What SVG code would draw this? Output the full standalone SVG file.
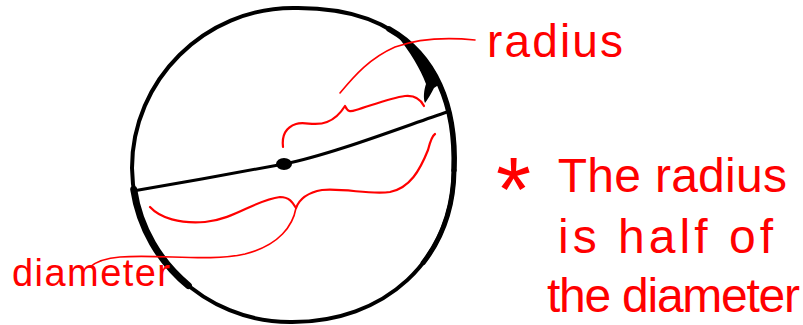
<svg xmlns="http://www.w3.org/2000/svg" width="803" height="325" viewBox="0 0 803 325">
<style>
.ink{fill:none;stroke:#000;stroke-linecap:round;stroke-linejoin:round}
.red{fill:none;stroke:#ff0000;stroke-width:1.6;stroke-linecap:round;stroke-linejoin:round}
.brace{stroke-width:2.2}
.lbl{font-family:"Liberation Sans",Arial,sans-serif;fill:#ff0000}
</style>
<rect width="803" height="325" fill="#fff"/>
<g id="circle">
<path class="ink" stroke-width="4" d="M293,8 C405,6 458,70 454,170 C453,260 385,323 290,322 C205,322 133,255 132,168 C132,80 205,8 293,8 Z"/>
<path class="ink" stroke-width="7" d="M188.4,285.6 C154.6,257.6 132.55,215.85 132,168" pathLength="100" stroke-dasharray="84 200"/>
<path class="ink" stroke-width="5.5" d="M389,29 C435.1,55.2 456.6,105 454,170"/>
<path class="ink" stroke-width="5" d="M454,170 C453.6,206 442.5,237.7 423.2,262.7"/>
<path d="M396,34 C412,44 426,58 440,84 L434,88 C431,94 428,99 425,103 C423,98 424,90 426,84 C420,68 410,52 396,34 Z" fill="#000"/>
</g>
<g id="diameter-line">
<path class="ink" d="M133,191 C180,183 240,172 284,164 C330,155 400,128 447,112" stroke-width="3"/>
</g>
<g id="center">
<ellipse cx="284" cy="164" rx="8" ry="6" fill="#000"/>
</g>
<g id="radius-brace">
<path class="red brace" d="M283,147 C282,138 284,128 296,124 C305,121 315,127 327,122 C335,119 340,114 345,106 C348,112 350,112 356,110 C370,106 390,98 405,96 C415,95 421,100 424,106"/>
</g>
<g id="diameter-brace">
<path class="red brace" d="M150,207 C160,218 180,224 205,222 C235,219 255,200 280,197 C290,197 293,203 296,208 C299,200 305,193 322,190 C345,188 370,195 390,192 C410,188 420,170 428,150 C430,142 432,136 435,134"/>
</g>
<g id="connectors">
<path class="red" d="M340,93 C355,75 370,58 395,47 C420,38 445,37 475,40"/>
<path class="red" d="M296,208 C293,225 280,245 245,254 C210,262 160,254 120,257 C108,258 98,260 90,267"/>
</g>
<g id="radius-label">
<text class="lbl" x="487" y="57" font-size="46" textLength="136" lengthAdjust="spacing">radius</text>
</g>
<g id="diameter-label">
<text class="lbl" x="12" y="286" font-size="38" textLength="158" lengthAdjust="spacing">diameter</text>
</g>
<g id="note">
<text class="lbl" font-size="48"><tspan x="496" y="221" font-size="90">*</tspan><tspan x="545" y="192" textLength="242" lengthAdjust="spacing"> The radius</tspan></text>
<text class="lbl" x="558" y="253" font-size="48" textLength="215" lengthAdjust="spacing">is half of</text>
<text class="lbl" x="547" y="312" font-size="48" textLength="253" lengthAdjust="spacing">the diameter</text>
</g>
</svg>
